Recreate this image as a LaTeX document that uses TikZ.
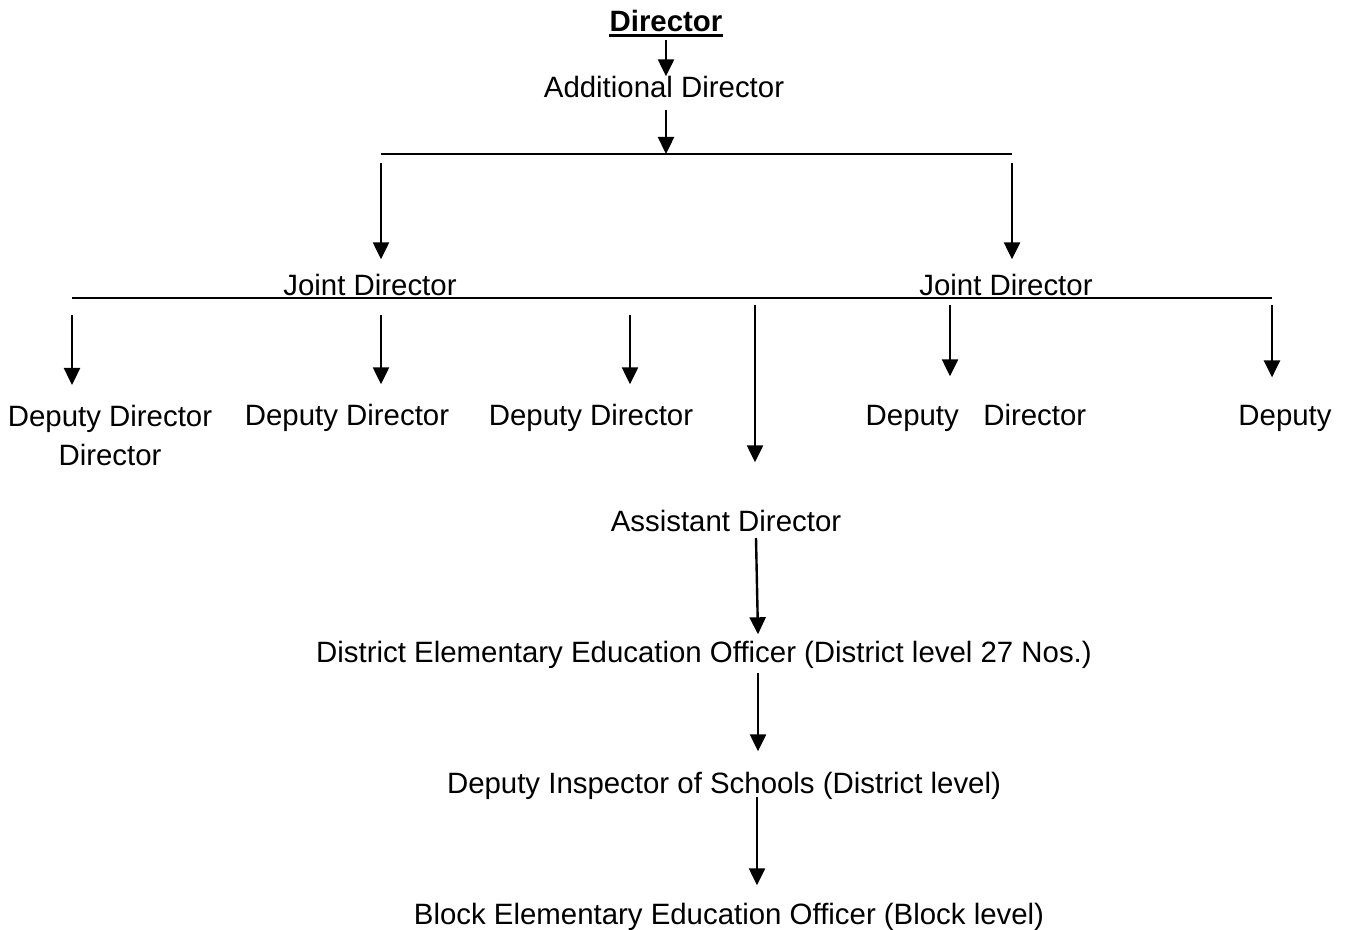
\documentclass[tikz,border=0pt]{standalone}
\usepackage{fontspec}
\setmainfont{Liberation Sans}
\usetikzlibrary{arrows.meta}

\begin{document}
\begin{tikzpicture}[x=0.5pt,y=-0.5pt,
		lbl/.style={anchor=base,inner sep=0pt,font=\fontsize{14.7}{19.5}\selectfont},
		arr/.style={-{Triangle[width=8pt,length=8.5pt]},line width=1.2pt},
		bar/.style={line width=1.1pt}]
	\useasboundingbox (0,0) rectangle (1349,930);
	
	%top levels
	\node[lbl,font=\fontsize{14.7}{19.5}\selectfont\bfseries] (dir) at (666,32) {Director};
	\draw[line width=1.5pt] ([yshift=-2pt]dir.base west) -- ([yshift=-2pt]dir.base east);
	\node[lbl] (add) at (664,98) {Additional Director};
	\draw[arr,shorten <=4pt] (dir.base) -- (dir.base |- add.north);
	
	\coordinate (t0) at (666,154);
	\coordinate (t1) at (381,154);
	\coordinate (t2) at (1012,154);
	\draw[bar] (t1) -- (t2);
	\draw[arr,shorten <=6pt] (add.base -| t0) -- (t0);
	
	%joint directors
	\node[lbl] (jd1) at (370,296) {Joint Director};
	\node[lbl] (jd2) at (1006,296) {Joint Director};
	\draw[arr,shorten <=4.5pt,shorten >=7.5pt] (t1) -- (t1 |- jd1.north);
	\draw[arr,shorten <=4.5pt,shorten >=7.5pt] (t2) -- (t2 |- jd2.north);
	
	\coordinate (m1) at (72,298);
	\coordinate (m2) at (381,298);
	\coordinate (m3) at (630,298);
	\coordinate (m4) at (755,298);
	\coordinate (m5) at (950,298);
	\coordinate (m6) at (1272,298);
	\draw[bar] (m1) -- (m6);
	
	%deputy directors
	\node[lbl,anchor=north,align=center] (dd1) at (110,405) {Deputy Director\\Director};
	\node[lbl] (dd2) at (347,426) {Deputy Director};
	\node[lbl] (dd3) at (591,426) {Deputy Director};
	\node[lbl] (dd4) at (976,426) {Deputy~~~Director};
	\node[lbl] (dd5) at (1285,426) {Deputy};
	\node[lbl] (asd) at (726,531) {Assistant Director};
	
	\foreach \m/\n/\s/\e in {m1/dd1/8.5/10, m2/dd2/8.5/10, m3/dd3/8.5/10,
		m4/asd/3.5/23.5, m5/dd4/3.5/14, m6/dd5/3.5/14}{
		\draw[arr,shorten <=\s pt,shorten >=\e pt] (\m) -- (\m |- \n.north);
	}
	
	%district and block level
	\node[lbl] (deo) at (704,662) {District Elementary Education Officer (District level 27 Nos.)};
	\node[lbl] (dis) at (724,793) {Deputy Inspector of Schools (District level)};
	\node[lbl] (beo) at (729,924) {Block Elementary Education Officer (Block level)};
	
	\draw[arr] ([xshift=15pt,yshift=-3.5pt]asd.base) -- ([xshift=27pt,yshift=3pt]deo.north);
	\draw[arr] ([xshift=27pt,yshift=-5.5pt]deo.base) -- ([xshift=17pt,yshift=10pt]dis.north);
	\draw[arr] ([xshift=16.5pt,yshift=-2pt]dis.base) -- ([xshift=14pt,yshift=8.5pt]beo.north);
\end{tikzpicture}
\end{document}
